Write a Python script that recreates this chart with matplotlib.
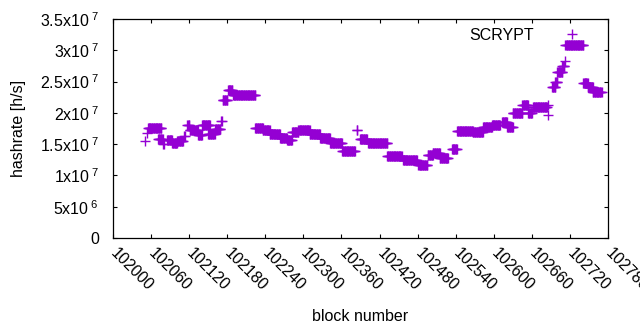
import numpy as np
import matplotlib
matplotlib.use('Agg')
import matplotlib.pyplot as plt

plt.rcParams['font.family'] = ['Liberation Sans', 'DejaVu Sans']
plt.rcParams['mathtext.fontset'] = 'custom'
plt.rcParams['mathtext.rm'] = 'Liberation Sans'
plt.rcParams['mathtext.it'] = 'Liberation Sans:italic'

# runs of blocks with the same hashrate estimate: first block, last block, value
seg_start = [102050, 102054, 102055, 102071, 102079, 102085, 102093, 102101, 102112,
             102117, 102121, 102134, 102140, 102150, 102161, 102170, 102173, 102181,
             102189, 102224, 102236, 102247, 102263, 102274, 102282, 102292, 102310,
             102326, 102342, 102361, 102384, 102389, 102402, 102432, 102457, 102481,
             102496, 102504, 102515, 102534, 102542, 102567, 102583, 102597, 102613,
             102621, 102630, 102645, 102654, 102662, 102685, 102686, 102692, 102697,
             102700, 102708, 102712, 102713, 102741, 102748, 102756]
seg_end = [102050, 102054, 102076, 102078, 102080, 102093, 102101, 102110, 102113,
           102120, 102134, 102140, 102153, 102160, 102169, 102171, 102180, 102188,
           102224, 102236, 102247, 102263, 102274, 102282, 102292, 102310, 102326,
           102342, 102361, 102381, 102385, 102400, 102432, 102455, 102479, 102495,
           102504, 102515, 102528, 102542, 102567, 102583, 102597, 102610, 102621,
           102630, 102645, 102654, 102660, 102684, 102685, 102686, 102697, 102700,
           102708, 102711, 102712, 102741, 102748, 102756, 102770]
seg_value = [1.55e7, 1.68e7, 1.76e7, 1.58e7, 1.50e7, 1.57e7, 1.52e7, 1.55e7, 1.63e7,
             1.80e7, 1.72e7, 1.64e7, 1.80e7, 1.66e7, 1.75e7, 1.87e7, 2.20e7, 2.36e7,
             2.28e7, 1.76e7, 1.73e7, 1.67e7, 1.60e7, 1.57e7, 1.69e7, 1.72e7, 1.66e7,
             1.60e7, 1.52e7, 1.39e7, 1.73e7, 1.58e7, 1.52e7, 1.31e7, 1.25e7, 1.17e7,
             1.33e7, 1.36e7, 1.28e7, 1.43e7, 1.71e7, 1.69e7, 1.77e7, 1.80e7, 1.85e7,
             1.78e7, 2.00e7, 2.12e7, 2.00e7, 2.09e7, 1.96e7, 2.12e7, 2.41e7, 2.49e7,
             2.65e7, 2.75e7, 2.83e7, 3.08e7, 2.48e7, 2.41e7, 2.34e7]

blocks = np.concatenate([np.arange(s, e + 1) for s, e in zip(seg_start, seg_end)])
hashrate = np.concatenate([np.full(e - s + 1, v) for s, e, v in zip(seg_start, seg_end, seg_value)])

xticks = np.arange(102000, 102781, 60)
yticks = np.arange(0, 3.5e7 + 1, 5e6)
ylabels = ['0', '5x10$^{\\ 6}$', '1x10$^{\\ 7}$', '1.5x10$^{\\ 7}$', '2x10$^{\\ 7}$',
           '2.5x10$^{\\ 7}$', '3x10$^{\\ 7}$', '3.5x10$^{\\ 7}$']

fig = plt.figure(figsize=(6.4, 3.3), dpi=100)
ax = fig.add_axes([0.1766, 0.2788, 0.7734, 0.6636])

ax.plot(blocks, hashrate, '+', color='#9400d3', markersize=7, markeredgewidth=1.0,
        linestyle='none', label='SCRYPT')

ax.set_xlim(102000, 102780)
ax.set_ylim(0, 3.5e7)
ax.set_xticks(xticks)
ax.set_xticklabels([str(t) for t in xticks], rotation=-45, ha='left', va='center',
                   rotation_mode='anchor')
ax.set_yticks(yticks)
ax.set_yticklabels(ylabels)
ax.tick_params(direction='in', length=3, width=0.8, top=True, right=True, labelsize=11.5)
ax.tick_params(axis='y', pad=10)
ax.tick_params(axis='x', pad=9)
for s in ax.spines.values():
    s.set_linewidth(0.9)

ax.set_xlabel('block number', fontsize=11.5, labelpad=11)
ax.set_ylabel('hashrate [h/s]', fontsize=11.5, labelpad=10)

ax.legend(loc='upper right', bbox_to_anchor=(0.983, 1.025), frameon=False,
          markerfirst=False, fontsize=11.5, handlelength=1.6, handletextpad=1.6)

fig.savefig('out.png', dpi=100)
